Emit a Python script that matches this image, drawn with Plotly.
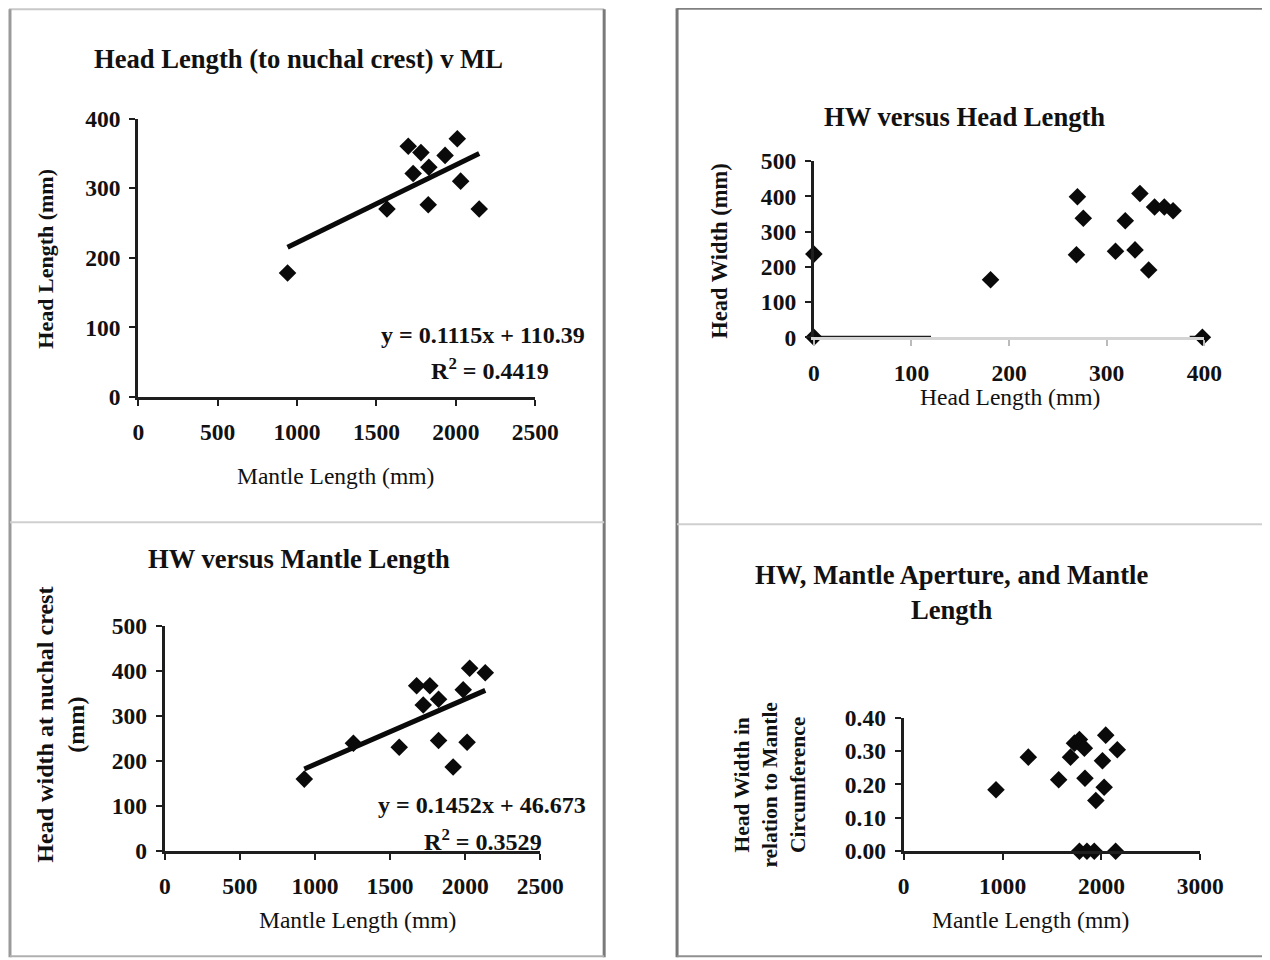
import plotly.graph_objects as go

# ---------------- data ----------------
# Panel 1: Head Length vs Mantle Length
ml_1 = [940, 1566, 1700, 1780, 1731, 1826, 1830, 1932, 2009, 2030, 2147]
hl_1 = [178, 270, 360, 351, 321, 276, 330, 347, 371, 310, 270]
fit1_slope, fit1_icpt = 0.1115, 110.39
fit1_text = ["y = 0.1115x + 110.39", "R<sup>2</sup> = 0.4419"]

# Panel 2: Head Width vs Head Length
hl_2 = [0, 0, 181, 270, 276, 269, 309, 319, 329, 334, 343, 349, 359, 368, 398]
hw_2 = [236, 0, 163, 399, 338, 234, 244, 331, 248, 408, 191, 370, 370, 359, 0]
axis2_dark_x = [0, 120, None, 385, 400]
axis2_dark_y = [0, 0, None, 0, 0]

# Panel 3: Head Width vs Mantle Length
ml_3 = [929, 1256, 1561, 1677, 1765, 1721, 1823, 1823, 1920, 2013, 1987, 2030, 2134]
hw_3 = [159, 239, 230, 367, 367, 324, 337, 245, 186, 241, 358, 406, 396]
fit3_slope, fit3_icpt = 0.1452, 46.673
fit3_text = ["y = 0.1452x + 46.673", "R<sup>2</sup> = 0.3529"]

# Panel 4: HW relative to mantle circumference vs Mantle Length
ml_4 = [933, 1260, 1567, 1687, 1727, 1777, 1827, 1833, 2010, 2027, 1943, 2043, 2160,
        1777, 1853, 1927, 2143]
ratio_4 = [0.184, 0.282, 0.214, 0.282, 0.324, 0.335, 0.309, 0.219, 0.271, 0.192, 0.152,
           0.348, 0.304, 0.0, 0.0, 0.0, 0.0]

titles = ["Head Length (to nuchal crest) v ML", "HW versus Head Length",
          "HW versus Mantle Length", "HW, Mantle Aperture, and Mantle<br>Length"]

# ---------------- layout helpers ----------------
# positions below are given in picture pixels; map them to figure pixels
AX_, BX_ = 0.978, 5.2
AY_, BY_ = 0.975, 12.0
OFF = 8
def fx(x): return (x - BX_) / AX_ - OFF
def fy(y): return (y - BY_) / AY_ - OFF
W = int(round(fx(1270)))
H = int(round(fy(960)))
def PX(x): return fx(x) / W
def PY(y): return 1 - fy(y) / H
def S(v): return v / 0.977

FONT = "Liberation Serif"
AX_COL = "#1e1e1e"
TICK_SIZE = S(23)

def xaxis(x0, x1, rng, dtick, anchor, linecolor=AX_COL, tickcolor=AX_COL, fmt=None):
    d = dict(domain=[PX(x0), PX(x1)], range=rng, dtick=dtick, tick0=0, anchor=anchor,
             showline=True, linecolor=linecolor, linewidth=3, showgrid=False,
             zeroline=False, ticks="outside", ticklen=6, tickwidth=2, tickcolor=tickcolor,
             tickfont=dict(family=FONT, size=TICK_SIZE, color="#111", weight="bold"),
             ticklabelstandoff=6, fixedrange=True)
    if fmt:
        d["tickformat"] = fmt
    return d

def yaxis(y0, y1, rng, dtick, anchor, fmt=None):
    d = dict(domain=[PY(y0), PY(y1)], range=rng, dtick=dtick, tick0=0, anchor=anchor,
             showline=True, linecolor=AX_COL, linewidth=3, showgrid=False,
             zeroline=False, ticks="outside", ticklen=6, tickwidth=2, tickcolor=AX_COL,
             tickfont=dict(family=FONT, size=TICK_SIZE, color="#111", weight="bold"),
             ticklabelstandoff=4, fixedrange=True)
    if fmt:
        d["tickformat"] = fmt
    return d

fig = go.Figure()

mk = dict(symbol="diamond", size=13.5, color="#0a0a0a", line=dict(width=0))

# Panel 1
fig.add_trace(go.Scatter(x=ml_1, y=hl_1, mode="markers", marker=mk, xaxis="x", yaxis="y",
                         cliponaxis=False))
x1a, x1b = min(ml_1), max(ml_1)
fig.add_trace(go.Scatter(x=[x1a, x1b], y=[fit1_slope * x1a + fit1_icpt, fit1_slope * x1b + fit1_icpt],
                         mode="lines", line=dict(color="#0a0a0a", width=5), xaxis="x", yaxis="y"))

# Panel 2
fig.add_trace(go.Scatter(x=axis2_dark_x, y=axis2_dark_y, mode="lines",
                         line=dict(color=AX_COL, width=3), xaxis="x2", yaxis="y2",
                         cliponaxis=False))
fig.add_trace(go.Scatter(x=hl_2, y=hw_2, mode="markers", marker=mk, xaxis="x2", yaxis="y2",
                         cliponaxis=False))

# Panel 3
fig.add_trace(go.Scatter(x=ml_3, y=hw_3, mode="markers", marker=mk, xaxis="x3", yaxis="y3",
                         cliponaxis=False))
x3a, x3b = min(ml_3), max(ml_3)
fig.add_trace(go.Scatter(x=[x3a, x3b], y=[fit3_slope * x3a + fit3_icpt, fit3_slope * x3b + fit3_icpt],
                         mode="lines", line=dict(color="#0a0a0a", width=5), xaxis="x3", yaxis="y3"))

# Panel 4
fig.add_trace(go.Scatter(x=ml_4, y=ratio_4, mode="markers", marker=mk, xaxis="x4", yaxis="y4",
                         cliponaxis=False))

layout = dict(
    width=W, height=H, margin=dict(l=0, r=0, t=0, b=0),
    paper_bgcolor="white", plot_bgcolor="white", showlegend=False,
    xaxis=xaxis(137.5, 535, [0, 2500], 500, "y"),
    yaxis=yaxis(396.5, 117.5, [0, 400], 100, "x"),
    xaxis2=xaxis(814, 1205, [0, 400], 100, "y2", linecolor="#d4d4d4", tickcolor="#bbbbbb"),
    yaxis2=yaxis(336.7, 160.2, [0, 500], 100, "x2"),
    xaxis3=xaxis(164, 540, [0, 2500], 500, "y3"),
    yaxis3=yaxis(851, 626, [0, 500], 100, "x3"),
    xaxis4=xaxis(904, 1201, [0, 3000], 1000, "y4"),
    yaxis4=yaxis(851.7, 718, [0, 0.4], 0.1, "x4", fmt=".2f"),
)
fig.update_layout(**layout)

# ---------------- text ----------------
ann = []
def text(x, y, s, size=20, angle=0, xanchor="center"):
    ann.append(dict(x=PX(x), y=PY(y), xref="paper", yref="paper", text=s, showarrow=False,
                    textangle=angle, xanchor=xanchor, yanchor="middle",
                    font=dict(family=FONT, size=S(size), color="#111")))

# titles
text(298, 58, "<b>" + titles[0] + "</b>", size=26)
text(965, 116, "<b>" + titles[1] + "</b>", size=26)
text(298, 559, "<b>" + titles[2] + "</b>", size=26)
text(952, 592, "<b>" + titles[3] + "</b>", size=26)

# axis titles
text(335, 476, "Mantle Length (mm)", size=23)
text(45, 258, "<b>Head Length (mm)</b>", size=21.5, angle=-90)
text(1010, 397, "Head Length (mm)", size=23)
text(720, 251, "<b>Head Width (mm)</b>", size=22, angle=-90)
text(357, 921, "Mantle Length (mm)", size=23)
text(60, 725, "<b>Head width at nuchal crest<br>(mm)</b>", size=23.5, angle=-90)
text(1031, 921, "Mantle Length (mm)", size=23)
text(770, 785, "<b>Head Width in<br>relation to Mantle<br>Circumference</b>", size=21, angle=-90)

# equations
text(483, 334, "<b>" + fit1_text[0] + "</b>", size=23.5)
text(490, 369, "<b>" + fit1_text[1] + "</b>", size=23.5)
text(482, 805, "<b>" + fit3_text[0] + "</b>", size=23.5)
text(483, 840, "<b>" + fit3_text[1] + "</b>", size=23.5)

fig.update_layout(annotations=ann)

# ---------------- panel borders ----------------
shapes = []
def line(x0, y0, x1, y1, color, width):
    shapes.append(dict(type="line", xref="paper", yref="paper", x0=PX(x0), y0=PY(y0),
                       x1=PX(x1), y1=PY(y1), line=dict(color=color, width=width)))

line(8, 8, 604, 8, "#c8c8c8", 2)
line(9, 8, 9, 958, "#9a9a9a", 3)
line(604, 8, 604, 958, "#7a7a7a", 3)
line(9, 522, 604, 522, "#cfcfcf", 2)
line(9, 957, 604, 957, "#b0b0b0", 2)
line(677, 7, 1268, 7, "#808080", 3)
line(677, 7, 677, 958, "#777777", 3)
line(1267, 7, 1267, 958, "#c8c8c8", 2)
line(677, 524, 1268, 524, "#cfcfcf", 2)
line(677, 957, 1268, 957, "#909090", 2)
fig.update_layout(shapes=shapes)

fig.write_html("out.html")
